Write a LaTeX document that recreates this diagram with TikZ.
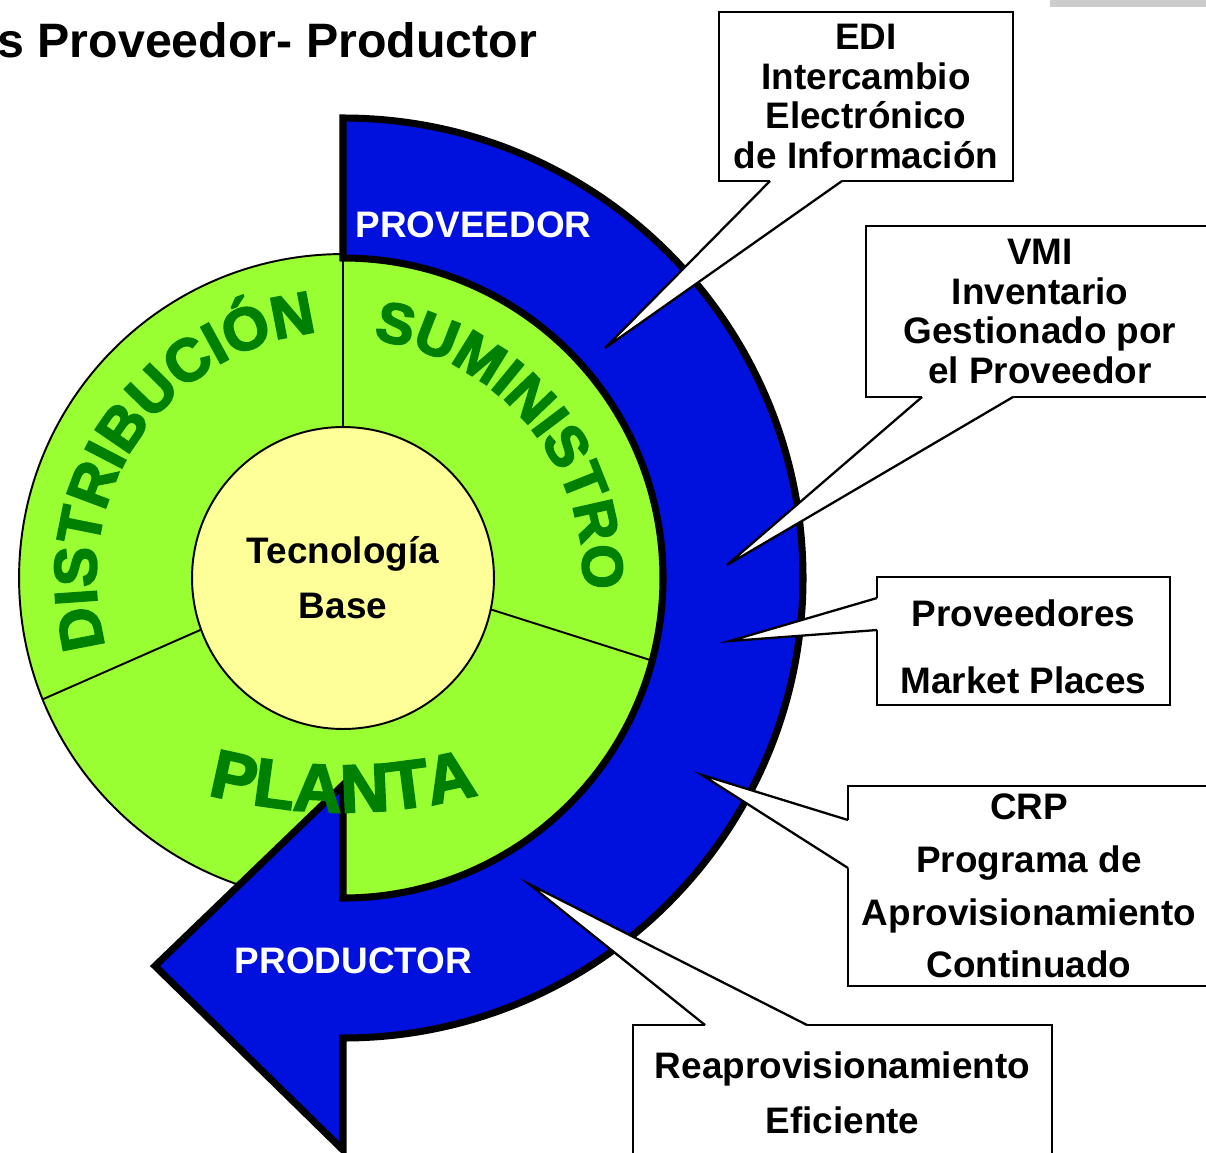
\documentclass[tikz,border=0pt]{standalone}
\usepackage{fontspec}
\setmainfont{Liberation Sans}
\newfontfamily\wordartfont{Liberation Sans}[UprightFeatures={FakeBold=3}, BoldFeatures={FakeBold=3}]
\usetikzlibrary{calc,decorations.text}
\definecolor{ringgreen}{RGB}{153,255,51}
\definecolor{textgreen}{RGB}{0,128,0}
\definecolor{coreyellow}{RGB}{255,255,153}
\definecolor{arrowblue}{RGB}{0,17,221}
\newcommand\wordsize{\wordartfont\bfseries\fontsize{34}{34}\selectfont\color{textgreen}}

\begin{document}
\begin{tikzpicture}[x=0.02cm,y=0.02cm,
  callbox/.style={draw=black, fill=white, line width=1.3pt, align=center,
    font=\fontsize{21}{22.7}\selectfont\bfseries},
  callline/.style={draw=black, line width=1.3pt},
  whitelabel/.style={text=white, font=\fontsize{21}{25}\selectfont\bfseries},
  arrowband/.style={draw=black, fill=arrowblue, line width=4pt},
  wordart/.style={decorate, decoration={text along path, text align=center, text={#1}}}]
\tikzstyle{every node}+=[inner sep=0pt, outer sep=0pt]
\useasboundingbox (0,0) rectangle (1206,-1152);
\fill [black!20] (1050,0) rectangle (1206,-7);
\node [anchor=base east, font=\fontsize{27.5}{33}\selectfont\bfseries] (title) at (537,-58) {s Proveedor- Productor};
% ring and core
\node [circle, draw=black, line width=1.1pt, fill=ringgreen, minimum size=12.96cm] (ring) at (343,-578) {};
\node [circle, draw=black, line width=1.1pt, fill=coreyellow, minimum size=6.04cm, align=center,
  font=\fontsize{21}{31.2}\selectfont\bfseries] (core) at (343,-578) {Tecnología\\Base};
\draw [line width=1.1pt] (core.90) -- (ring.90);
\draw [line width=1.1pt] (core.-12) -- (ring.-15.5);
\draw [line width=1.1pt] (core.200) -- (ring.202);
% arrow band
\draw [arrowband] (343,-118) arc [start angle=90, end angle=-90, radius=460] -- (343,-1150) -- (155,-966)
  -- (343,-785) -- (343,-898) arc [start angle=-90, end angle=90, radius=320] -- cycle;
% ring texts
\path [wordart={|\wordsize|DISTRIBUCIÓN}] ($(ring.center)+(216:247)$) arc [start angle=216, end angle=76, radius=247];
\path [wordart={|\wordsize\fontsize{32.5}{32.5}\selectfont|SUMINISTRO}] ($(ring.center)+(105:240)$) arc [start angle=105, end angle=-25, radius=240];
\path [wordart={|\wordsize\fontsize{38.5}{38.5}\selectfont|PLANTA}] ($(343,-284)+(245:528)$) arc [start angle=245, end angle=295, radius=528];
\node [whitelabel, anchor=base] (supplier) at (473.5,-237) {PROVEEDOR};
\node [whitelabel, anchor=base] (producer) at (353.5,-973) {PRODUCTOR};
% callouts
\node [callbox, minimum width=5.88cm, minimum height=3.38cm] (edi) at (866,-96.5) {EDI\\Intercambio\\Electrónico\\de Información};
\coordinate (ediTip) at (605,-348);
\coordinate (ediA) at ($(edi.south west)+(51,0)$);
\coordinate (ediB) at ($(edi.south west)+(123,0)$);
\fill [white] (ediA) -- (ediTip) -- (ediB) -- ([yshift=3pt]ediB) -- ([yshift=3pt]ediA) -- cycle;
\draw [callline] (ediA) -- (ediTip) -- (ediB);
\node [callbox, minimum width=6.96cm, minimum height=3.42cm] (vmi) at (1040,-311.5) {VMI\\Inventario\\Gestionado por\\el Proveedor};
\coordinate (vmiTip) at (727,-565);
\coordinate (vmiA) at ($(vmi.south west)+(56,0)$);
\coordinate (vmiB) at ($(vmi.south west)+(147,0)$);
\fill [white] (vmiA) -- (vmiTip) -- (vmiB) -- ([yshift=3pt]vmiB) -- ([yshift=3pt]vmiA) -- cycle;
\draw [callline] (vmiA) -- (vmiTip) -- (vmiB);
\node [callbox, minimum width=5.86cm, minimum height=2.56cm, font=\fontsize{21}{38}\selectfont\bfseries] (market) at (1023.5,-641) {\rule{0pt}{0.77cm}Proveedores\\Market Places};
\coordinate (marketTip) at (730,-641);
\coordinate (marketA) at ($(market.north west)+(0,-21)$);
\coordinate (marketB) at ($(market.north west)+(0,-53)$);
\fill [white] (marketA) -- (marketTip) -- (marketB) -- ([xshift=3pt]marketB) -- ([xshift=3pt]marketA) -- cycle;
\draw [callline] (marketA) -- (marketTip) -- (marketB);
\node [callbox, minimum width=7.24cm, minimum height=4cm, font=\fontsize{21}{30}\selectfont\bfseries] (crp) at (1029,-886) {CRP\\Programa de\\Aprovisionamiento\\Continuado};
\coordinate (crpTip) at (702,-775);
\coordinate (crpA) at ($(crp.north west)+(0,-34)$);
\coordinate (crpB) at ($(crp.north west)+(0,-82)$);
\fill [white] (crpA) -- (crpTip) -- (crpB) -- ([xshift=3pt]crpB) -- ([xshift=3pt]crpA) -- cycle;
\draw [callline] (crpA) -- (crpTip) -- (crpB);
\node [callbox, minimum width=8.38cm, minimum height=2.7cm, font=\fontsize{21}{31.2}\selectfont\bfseries] (reap) at (842.5,-1092.5) {Reaprovisionamiento\\Eficiente};
\coordinate (reapTip) at (529,-884);
\coordinate (reapA) at ($(reap.north west)+(72,0)$);
\coordinate (reapB) at ($(reap.north west)+(174,0)$);
\fill [white] (reapA) -- (reapTip) -- (reapB) -- ([yshift=-3pt]reapB) -- ([yshift=-3pt]reapA) -- cycle;
\draw [callline] (reapA) -- (reapTip) -- (reapB);
\end{tikzpicture}
\end{document}
